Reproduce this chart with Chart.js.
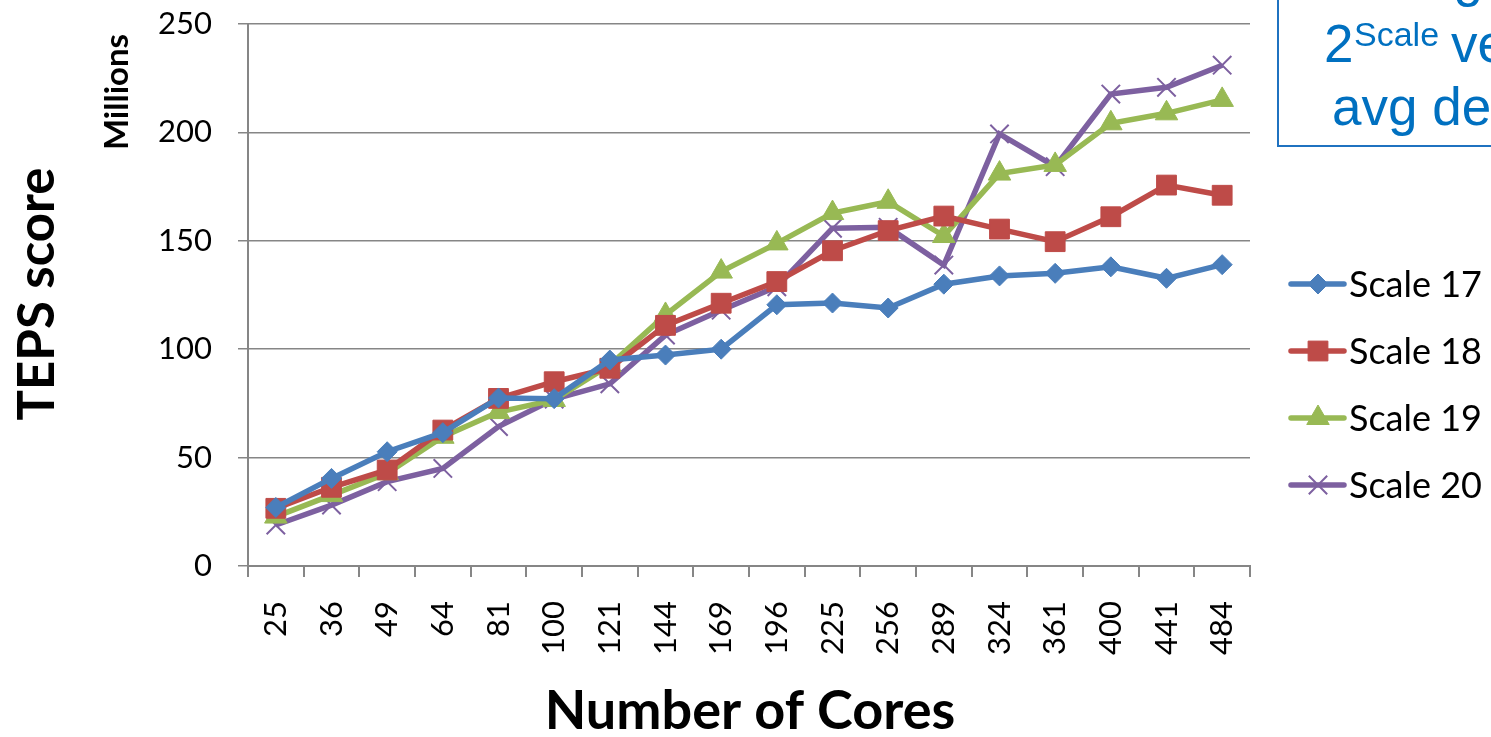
<!DOCTYPE html>
<html>
<head>
<meta charset="utf-8">
<script src="https://cdn.jsdelivr.net/npm/chart.js@4.4.1/dist/chart.umd.min.js"></script>
<style>
  html, body { margin: 0; padding: 0; background: #fff; }
  body { width: 1491px; height: 737px; overflow: hidden; position: relative; }
  #chart { position: absolute; left: 0; top: 0; }
  .note { position: absolute; font-family: "Liberation Sans", Arial, sans-serif; color: #0070C0; line-height: 1; white-space: nowrap; }
  #noteBox { position: absolute; left: 1277px; top: -60px; width: 400px; height: 203px; border: 2px solid #1F72C0; }
</style>
</head>
<body>
<canvas id="chart" width="1491" height="737"></canvas>
<div id="noteBox"></div>
<span class="note" style="font-size:53px; right:8px; top:-49px;">Weak scaling</span>
<span class="note" style="font-size:53px; left:1324px; top:17px;">2</span>
<span class="note" style="font-size:34px; left:1354px; top:17px;">Scale</span>
<span class="note" style="font-size:53px; left:1451px; top:17px;">vertices</span>
<span class="note" style="font-size:53px; left:1332px; top:80px;">avg degree 16</span>
<script>
const cores = ["25", "36", "49", "64", "81", "100", "121", "144", "169", "196", "225", "256", "289", "324", "361", "400", "441", "484"];
const scale17 = [27, 40.4, 52.7, 61.5, 77.5, 77.2, 95, 97.3, 100, 120.5, 121.3, 119, 130, 133.8, 135, 138, 132.7, 139];
const scale18 = [26.6, 36.3, 44.3, 62.7, 77.3, 85, 91.2, 111, 121.2, 131.2, 145.4, 154.7, 161.4, 155.4, 149.6, 161.1, 175.7, 171];
const scale19 = [22.8, 32.7, 42.8, 59.6, 71, 76.6, 92.7, 115.8, 135.8, 148.8, 162.8, 168, 152.2, 181, 185, 204.2, 208.8, 215];
const scale20 = [18.9, 28.1, 38.9, 45, 64.3, 77, 84, 106.5, 118, 128.8, 155.8, 156.2, 138.8, 199.3, 184.2, 217.7, 220.8, 231];
const seriesNames = ["Scale 17", "Scale 18", "Scale 19", "Scale 20"];
const yTicks = [0, 50, 100, 150, 200, 250];

const gridColor = "#868686";
const fontFam = "Lato, 'Open Sans', sans-serif";
const tickFont = { family: fontFam, size: 31 };

function makeSet(label, data, color, style, radius, fill) {
  return {
    label: label,
    data: data,
    borderColor: color,
    backgroundColor: color,
    borderWidth: 5.5,
    pointStyle: style,
    pointRadius: radius,
    pointHoverRadius: radius,
    pointBackgroundColor: fill ? color : "rgba(0,0,0,0)",
    pointBorderColor: color,
    pointBorderWidth: fill ? 1 : 2,
    tension: 0,
  };
}

// legend with line + marker, and the axis titles
const extrasPlugin = {
  id: "extras",
  afterDraw(chart) {
    const ctx = chart.ctx;
    ctx.save();
    chart.data.datasets.forEach((ds, i) => {
      const y = 284 + i * 67;
      ctx.strokeStyle = ds.borderColor;
      ctx.lineWidth = 5.5;
      ctx.lineCap = "round";
      ctx.beginPath();
      ctx.moveTo(1291, y);
      ctx.lineTo(1344, y);
      ctx.stroke();
      ctx.fillStyle = ds.pointBackgroundColor;
      ctx.lineWidth = ds.pointBorderWidth;
      ctx.lineCap = "butt";
      Chart.helpers.drawPoint(ctx, { pointStyle: ds.pointStyle, radius: ds.pointRadius, borderWidth: ds.pointBorderWidth, rotation: 0 }, 1318, y);
      ctx.fillStyle = "#000";
      ctx.font = "36px " + fontFam;
      ctx.textAlign = "left";
      ctx.textBaseline = "middle";
      ctx.fillText(ds.label, 1349, y + 1);
    });

    ctx.fillStyle = "#000";
    ctx.textAlign = "center";
    ctx.textBaseline = "middle";
    ctx.font = "bold 54px " + fontFam;
    ctx.fillText("Number of Cores", 750, 712);

    ctx.save();
    ctx.translate(38, 294);
    ctx.rotate(-Math.PI / 2);
    ctx.font = "bold 51px " + fontFam;
    ctx.fillText("TEPS score", 0, 0);
    ctx.restore();

    ctx.save();
    ctx.translate(117, 92);
    ctx.rotate(-Math.PI / 2);
    ctx.font = "bold 33px " + fontFam;
    ctx.fillText("Millions", 0, 0);
    ctx.restore();
    ctx.restore();
  },
};

const chart = new Chart(document.getElementById("chart"), {
  type: "line",
  data: {
    labels: cores,
    datasets: [
      makeSet(seriesNames[0], scale17, "#4A7EBB", "rectRot", 10, true),
      makeSet(seriesNames[1], scale18, "#BE4B48", "rect", 14, true),
      makeSet(seriesNames[2], scale19, "#98B954", "triangle", 13, true),
      makeSet(seriesNames[3], scale20, "#7D60A0", "crossRot", 13, false),
    ],
  },
  options: {
    responsive: false,
    devicePixelRatio: 1,
    animation: false,
    layout: { padding: { left: 150, top: 4, right: 241, bottom: 60 } },
    plugins: {
      legend: { display: false },
      tooltip: { enabled: false },
    },
    scales: {
      x: {
        offset: true,
        grid: { offset: true, drawOnChartArea: false, color: gridColor, lineWidth: 2, tickLength: 11 },
        border: { color: gridColor, width: 2 },
        ticks: { color: "#000", font: tickFont, minRotation: 90, maxRotation: 90, autoSkip: false, padding: 24 },
        afterFit(scale) { scale.height = 111; },
      },
      y: {
        min: 0,
        max: 250,
        afterBuildTicks(scale) { scale.ticks = yTicks.map((v) => ({ value: v })); },
        grid: { color: gridColor, lineWidth: 1.5, tickLength: 10 },
        border: { color: gridColor, width: 2 },
        ticks: { color: "#000", font: tickFont, padding: 26 },
        afterFit(scale) {
          scale.width = 98;
          scale.paddingTop = 24;
          scale.paddingBottom = 0;
        },
      },
    },
  },
  plugins: [extrasPlugin],
});
</script>
</body>
</html>
